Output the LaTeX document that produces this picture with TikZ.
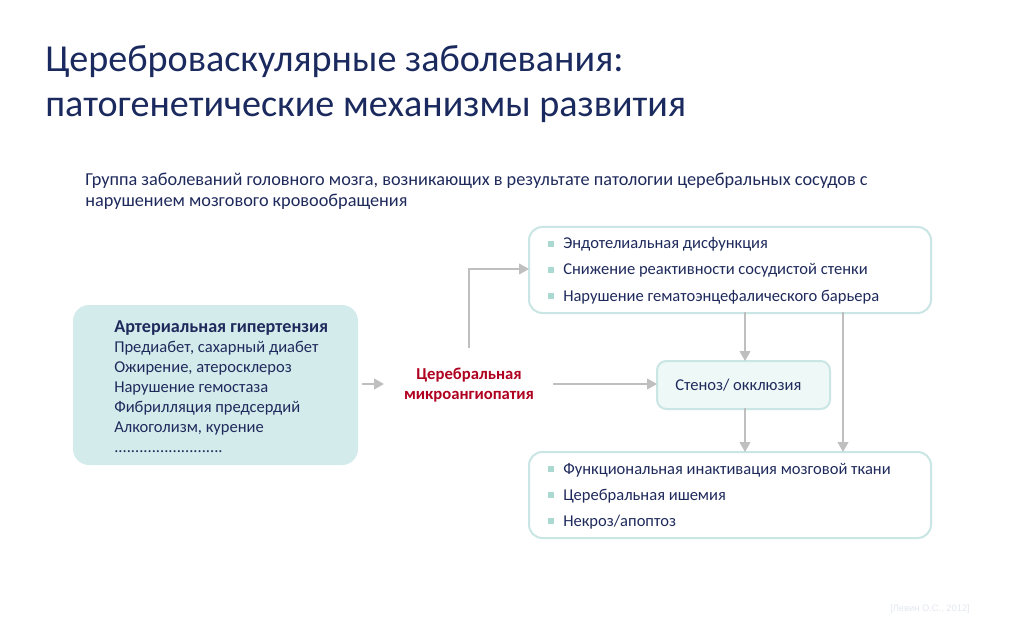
\documentclass[tikz,border=0pt]{standalone}
\usepackage{fontspec}
\setmainfont{Carlito}
\newfontfamily\citefont{Liberation Sans}
\usetikzlibrary{arrows.meta}
\definecolor{navy}{HTML}{1F2A5C}
\definecolor{titlecol}{HTML}{1B2A5E}
\definecolor{redtxt}{HTML}{B00020}
\definecolor{arrowgray}{HTML}{BFBFBF}
\definecolor{leftfill}{HTML}{D3EBEB}
\definecolor{boxedge}{HTML}{C9E6E4}
\definecolor{stenfill}{HTML}{EEF8F7}
\definecolor{bulletcol}{HTML}{A9D9D1}
\definecolor{citecol}{HTML}{E3E8EF}
\tikzset{
  conn/.style={draw=arrowgray, line width=1.5pt, -{Triangle[length=7.5pt,width=8pt]}},
  listbox/.style={draw=boxedge, line width=1.5pt, rounded corners=10pt, fill=white},
  bodytext/.style={text=navy, font=\fontsize{12.4}{15}\selectfont, anchor=base west, inner sep=0pt},
  titletext/.style={anchor=base west, inner sep=0pt, text=titlecol, font=\fontsize{28.6}{34}\selectfont},
  introtext/.style={anchor=base west, inner sep=0pt, text=navy, font=\fontsize{13.7}{16}\selectfont},
  bul/.style={fill=bulletcol, minimum size=4.5pt, inner sep=0pt},
}
\begin{document}
\begin{tikzpicture}[x=0.75pt,y=-0.75pt]
\useasboundingbox[fill=white] (0,0) rectangle (1024,620);
% title
\node[titletext] (t1) at (45,72) {Цереброваскулярные заболевания:};
\node[titletext] (t2) at (45,117) {патогенетические механизмы развития};
% intro
\node[introtext] (i1) at (85,186) {Группа заболеваний головного мозга, возникающих в результате патологии церебральных сосудов с};
\node[introtext] (i2) at (85,207) {нарушением мозгового кровообращения};
% left box
\path[fill=leftfill, rounded corners=12pt] (73,305) rectangle (358,465);
\node[bodytext, font=\fontsize{13.6}{15}\bfseries\selectfont] (l0) at (114,332) {Артериальная гипертензия};
\node[bodytext] (l1) at (114,352) {Предиабет, сахарный диабет};
\node[bodytext] (l2) at (114,372) {Ожирение, атеросклероз};
\node[bodytext] (l3) at (114,392) {Нарушение гемостаза};
\node[bodytext] (l4) at (114,412) {Фибрилляция предсердий};
\node[bodytext] (l5) at (114,432) {Алкоголизм, курение};
\node[bodytext] (l6) at (114,452) {..........................};
% middle
\node[align=center, text=redtxt, font=\fontsize{12.5}{15}\bfseries\selectfont, inner sep=0pt] (mid) at (469,385) {Церебральная\\микроангиопатия};
% right box 1
\path[listbox] (529,227) rectangle (931,313);
\coordinate (b1L) at (529,269);
\coordinate (b1a) at (745,313);
\coordinate (b1b) at (843,313);
\node[bul] (r1b) at (551,244) {};
\node[bul] (r2b) at (551,270) {};
\node[bul] (r3b) at (551,296) {};
\node[bodytext] (r1) at (563,249) {Эндотелиальная дисфункция};
\node[bodytext] (r2) at (563,275) {Снижение реактивности сосудистой стенки};
\node[bodytext] (r3) at (563,301) {Нарушение гематоэнцефалического барьера};
% stenosis
\path[draw=boxedge, line width=1.5pt, fill=stenfill, rounded corners=7pt] (657,361) rectangle (830,409);
\node[anchor=base west, inner sep=0pt, text=navy, font=\fontsize{12.4}{15}\selectfont] (stt) at (675,390) {Стеноз/ окклюзия};
\coordinate (stL) at (657,384);
\coordinate (stT) at (745,361);
\coordinate (stB) at (745,409);
% right box 3
\path[listbox] (529,452) rectangle (931,538);
\coordinate (b3a) at (745,452);
\coordinate (b3b) at (843,452);
\node[bul] (s1b) at (551,469) {};
\node[bul] (s2b) at (551,495) {};
\node[bul] (s3b) at (551,521) {};
\node[bodytext] (s1) at (563,474) {Функциональная инактивация мозговой ткани};
\node[bodytext] (s2) at (563,500) {Церебральная ишемия};
\node[bodytext] (s3) at (563,526) {Некроз/апоптоз};
% connectors
\coordinate (m1) at (362,384);
\coordinate (m1e) at (384,384);
\draw[conn] (m1) -- (m1e);
\coordinate (up0) at (469,348);
\draw[conn] (up0) |- (b1L);
\coordinate (m2) at (553,384);
\draw[conn] (m2) -- (stL);
\draw[conn] ([yshift=0.75pt]b1a) -- (stT);
\draw[conn] ([yshift=0.75pt]stB) -- (b3a);
\draw[conn] ([yshift=0.75pt]b1b) -- (b3b);
% citation
\node[anchor=base west, inner sep=0pt, text=citecol, font=\citefont\fontsize{7}{8}\selectfont] (cite) at (890,611) {[Левин О.С., 2012]};
\end{tikzpicture}
\end{document}
